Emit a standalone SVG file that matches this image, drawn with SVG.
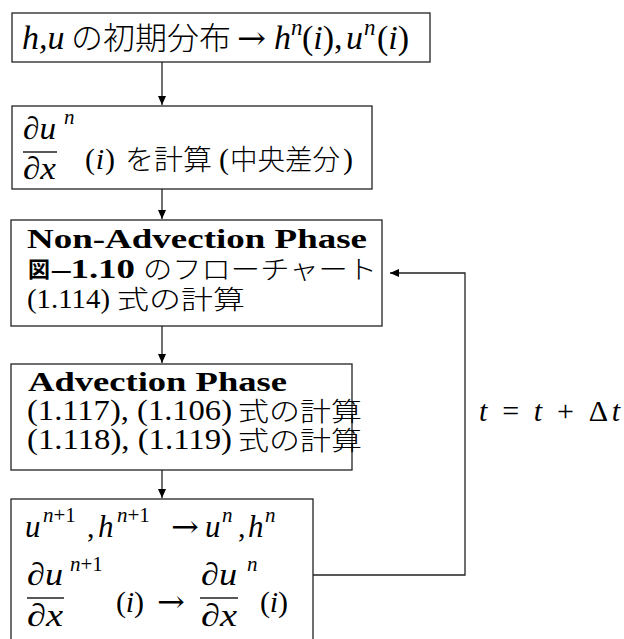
<svg xmlns="http://www.w3.org/2000/svg" width="624" height="639" viewBox="0 0 624 639">
<defs>
<style>
.box{fill:#fff;stroke:#222;stroke-width:1.3}
.ln{fill:none;stroke:#222;stroke-width:1.3}
text{fill:#000}
.m{font-family:"Liberation Serif",serif;font-style:italic}
.r{font-family:"Liberation Serif",serif}
.ar{font-family:"DejaVu Serif",serif}
.b{font-family:"Liberation Serif",serif;font-weight:bold}
.j{font-family:"Liberation Serif","Noto Sans CJK JP",sans-serif;font-weight:300}
.jb{font-family:"Liberation Serif","Noto Sans CJK JP",sans-serif;font-weight:bold}
</style>
<marker id="ah" markerWidth="10" markerHeight="8" refX="9" refY="4" orient="auto" markerUnits="userSpaceOnUse">
<path d="M0,0 L9,4 L0,8 Z" fill="#000"/>
</marker>
</defs>
<rect width="624" height="639" fill="#fff"/>

<g id="connectors">
<line class="ln" x1="162" y1="62" x2="162" y2="105" marker-end="url(#ah)"/>
<line class="ln" x1="162" y1="189" x2="162" y2="219" marker-end="url(#ah)"/>
<line class="ln" x1="162" y1="326" x2="162" y2="363" marker-end="url(#ah)"/>
<line class="ln" x1="162" y1="470" x2="162" y2="498" marker-end="url(#ah)"/>
<polyline class="ln" points="313,575 465,575 465,273 390,273" marker-end="url(#ah)"/>
<text class="r" font-size="30" x="479" y="421" textLength="141" lengthAdjust="spacing"><tspan class="m">t</tspan> = <tspan class="m">t</tspan> + Δ<tspan class="m">t</tspan></text>
</g>

<g id="n1">
<rect class="box" x="12" y="13" width="418" height="49"/>
<text class="m" font-size="34" x="22" y="49">h,u</text>
<text class="j" font-size="31" x="71" y="49" textLength="160" lengthAdjust="spacingAndGlyphs">の初期分布</text>
<text class="ar" font-size="32" x="237" y="49" textLength="29" lengthAdjust="spacingAndGlyphs">→</text>
<text class="m" font-size="34" x="274" y="49">h</text>
<text class="m" font-size="23" x="291" y="35">n</text>
<text class="r" font-size="34" x="302" y="49">(<tspan class="m">i</tspan>),</text>
<text class="m" font-size="34" x="346" y="49">u</text>
<text class="m" font-size="23" x="364" y="35">n</text>
<text class="r" font-size="34" x="377" y="49">(<tspan class="m">i</tspan>)</text>
</g>

<g id="n2">
<rect class="box" x="12" y="106" width="360" height="83"/>
<text class="r" font-size="32" x="23" y="139" textLength="33" lengthAdjust="spacingAndGlyphs">∂<tspan class="m">u</tspan></text>
<text class="m" font-size="21" x="64" y="124">n</text>
<line class="ln" x1="23" y1="152" x2="57" y2="152"/>
<text class="r" font-size="32" x="23" y="179" textLength="33" lengthAdjust="spacingAndGlyphs">∂<tspan class="m">x</tspan></text>
<text class="r" font-size="30" x="85" y="169" textLength="30" lengthAdjust="spacing">(<tspan class="m">i</tspan>)</text>
<text class="j" font-size="28" x="125" y="170" textLength="87" lengthAdjust="spacingAndGlyphs">を計算</text>
<text class="r" font-size="30" x="219" y="169">(</text>
<text class="j" font-size="28" x="230" y="170" textLength="110" lengthAdjust="spacingAndGlyphs">中央差分</text>
<text class="r" font-size="30" x="343" y="169">)</text>
</g>

<g id="n3">
<rect class="box" x="11" y="220" width="371" height="106"/>
<text class="b" font-size="28" x="27" y="248" textLength="340" lengthAdjust="spacingAndGlyphs">Non-Advection Phase</text>
<text class="jb" font-size="22" x="28" y="277">図</text>
<text class="b" font-size="28" x="52" y="278" textLength="83" lengthAdjust="spacingAndGlyphs">–1.10</text>
<text class="j" font-size="26" x="143" y="279" textLength="234" lengthAdjust="spacingAndGlyphs">のフローチャート</text>
<text class="r" font-size="28" x="27" y="308" textLength="83" lengthAdjust="spacingAndGlyphs">(1.114)</text>
<text class="j" font-size="26" x="117" y="309" textLength="128" lengthAdjust="spacingAndGlyphs">式の計算</text>
</g>

<g id="n4">
<rect class="box" x="11" y="364" width="341" height="106"/>
<text class="b" font-size="27" x="28" y="391" textLength="259" lengthAdjust="spacingAndGlyphs">Advection Phase</text>
<text class="r" font-size="29" x="27" y="420" textLength="205" lengthAdjust="spacingAndGlyphs">(1.117), (1.106)</text>
<text class="j" font-size="26" x="238" y="421" textLength="124" lengthAdjust="spacingAndGlyphs">式の計算</text>
<text class="r" font-size="29" x="27" y="449" textLength="205" lengthAdjust="spacingAndGlyphs">(1.118), (1.119)</text>
<text class="j" font-size="26" x="238" y="450" textLength="124" lengthAdjust="spacingAndGlyphs">式の計算</text>
</g>

<g id="n5">
<rect class="box" x="11" y="499" width="302" height="160"/>
<text class="m" font-size="31" x="25" y="537">u</text>
<text class="r" font-size="21" x="43" y="522"><tspan class="m">n</tspan>+1</text>
<text class="r" font-size="30" x="87" y="537">,</text>
<text class="m" font-size="31" x="98" y="537">h</text>
<text class="r" font-size="21" x="117" y="522"><tspan class="m">n</tspan>+1</text>
<text class="ar" font-size="30" x="171" y="537" textLength="28" lengthAdjust="spacingAndGlyphs">→</text>
<text class="m" font-size="31" x="205" y="537">u</text>
<text class="m" font-size="21" x="222" y="522">n</text>
<text class="r" font-size="30" x="238" y="537">,</text>
<text class="m" font-size="31" x="248" y="537">h</text>
<text class="m" font-size="21" x="265" y="522">n</text>

<text class="r" font-size="32" x="27" y="585" textLength="36" lengthAdjust="spacingAndGlyphs">∂<tspan class="m">u</tspan></text>
<text class="r" font-size="21" x="70" y="571"><tspan class="m">n</tspan>+1</text>
<line class="ln" x1="27" y1="598" x2="64" y2="598"/>
<text class="r" font-size="32" x="27" y="626" textLength="36" lengthAdjust="spacingAndGlyphs">∂<tspan class="m">x</tspan></text>
<text class="r" font-size="30" x="116" y="612" textLength="28" lengthAdjust="spacing">(<tspan class="m">i</tspan>)</text>
<text class="ar" font-size="30" x="157" y="612" textLength="28" lengthAdjust="spacingAndGlyphs">→</text>
<text class="r" font-size="32" x="201" y="585" textLength="36" lengthAdjust="spacingAndGlyphs">∂<tspan class="m">u</tspan></text>
<text class="m" font-size="21" x="247" y="571">n</text>
<line class="ln" x1="200" y1="598" x2="238" y2="598"/>
<text class="r" font-size="32" x="201" y="626" textLength="36" lengthAdjust="spacingAndGlyphs">∂<tspan class="m">x</tspan></text>
<text class="r" font-size="30" x="260" y="612" textLength="28" lengthAdjust="spacing">(<tspan class="m">i</tspan>)</text>
</g>
</svg>
